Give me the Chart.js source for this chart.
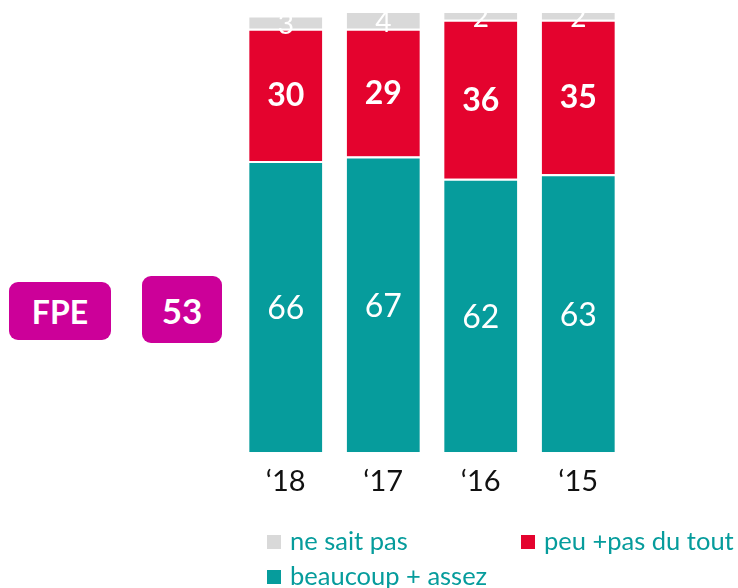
<!DOCTYPE html>
<html>
<head>
<meta charset="utf-8">
<script src="https://cdn.jsdelivr.net/npm/chart.js@4"></script>
<style>
  body { margin:0; background:#fff; width:738px; height:588px; position:relative; overflow:hidden; font-family: Lato, "Open Sans", sans-serif; }
  #wrap { position:absolute; left:0; top:0; width:738px; height:588px; }
  .tag { position:absolute; background:#CC0099; color:#fff; font-weight:bold; border-radius:9px;
         display:flex; align-items:center; justify-content:center; font-family: Lato, sans-serif; }
  .leg { position:absolute; color:#069C9C; font-size:25.5px; line-height:28px; white-space:nowrap; }
  .leg span { display:inline-block; width:14px; height:14px; margin-right:9px; vertical-align:1px; }
</style>
</head>
<body>
<div id="wrap"><canvas id="myChart" width="738" height="588"></canvas></div>
<div class="tag" style="left:9px;top:282px;width:102px;height:58px;font-size:32px;">FPE</div>
<div class="tag" style="left:142px;top:276px;width:80px;height:67px;font-size:35px;">53</div>
<div id="legend"></div>
<script>
const years = ['\u201818', '\u201817', '\u201816', '\u201815'];
const beaucoup = [66, 67, 62, 63];
const peu = [30, 29, 36, 35];
const nsp = [3, 4, 2, 2];

const teal = '#069C9C';
const red = '#E4032E';
const grey = '#D9D9D9';

// numbers written in the middle of each segment
const segLabels = {
  id: 'segLabels',
  afterDatasetsDraw(chart) {
    const ctx = chart.ctx;
    ctx.save();
    ctx.textAlign = 'center';
    ctx.textBaseline = 'middle';
    ctx.fillStyle = '#fff';
    chart.data.datasets.forEach((ds, i) => {
      const meta = chart.getDatasetMeta(i);
      ctx.font = (ds.labelBold ? 'bold ' : '') + ds.labelSize + 'px Lato, sans-serif';
      meta.data.forEach((bar, j) => {
        const y = (bar.y + bar.base) / 2 + (ds.labelShift || 0);
        ctx.fillText(ds.data[j], bar.x, y);
      });
    });
    ctx.restore();
  }
};

const ctx = document.getElementById('myChart');
new Chart(ctx, {
  type: 'bar',
  data: {
    labels: years,
    datasets: [
      { label: 'beaucoup + assez', data: beaucoup, backgroundColor: teal, labelSize: 32, labelBold: false, labelShift: 2 },
      { label: 'peu +pas du tout', data: peu, backgroundColor: red, labelSize: 32, labelBold: true, labelShift: 1 },
      { label: 'ne sait pas', data: nsp, backgroundColor: grey, labelSize: 28, labelBold: false, labelShift: 3 }
    ]
  },
  options: {
    responsive: false,
    animation: false,
    datasets: {
      bar: {
        barPercentage: 0.75,
        categoryPercentage: 1,
        borderColor: '#fff',
        borderWidth: { top: 2, bottom: 0, left: 0, right: 0 },
        borderSkipped: false
      }
    },
    layout: { padding: { left: 237, right: 111, top: 11, bottom: 85 } },
    plugins: { legend: { display: false }, tooltip: { enabled: false } },
    scales: {
      x: {
        stacked: true,
        grid: { display: false },
        border: { display: false },
        ticks: { color: '#111', font: { size: 29, family: 'Lato' }, padding: 4 }
      },
      y: {
        stacked: true,
        display: false,
        min: 0,
        max: 100
      }
    }
  },
  plugins: [segLabels]
});

// legend: two columns, as in the original
const legItems = [
  { text: 'ne sait pas', color: grey, x: 267, y: 526 },
  { text: 'peu +pas du tout', color: red, x: 521, y: 526 },
  { text: 'beaucoup + assez', color: teal, x: 267, y: 561 }
];
const legend = document.getElementById('legend');
legItems.forEach(it => {
  legend.innerHTML += `<div class="leg" style="left:${it.x}px;top:${it.y}px"><span style="background:${it.color}"></span>${it.text}</div>`;
});
</script>
</body>
</html>
